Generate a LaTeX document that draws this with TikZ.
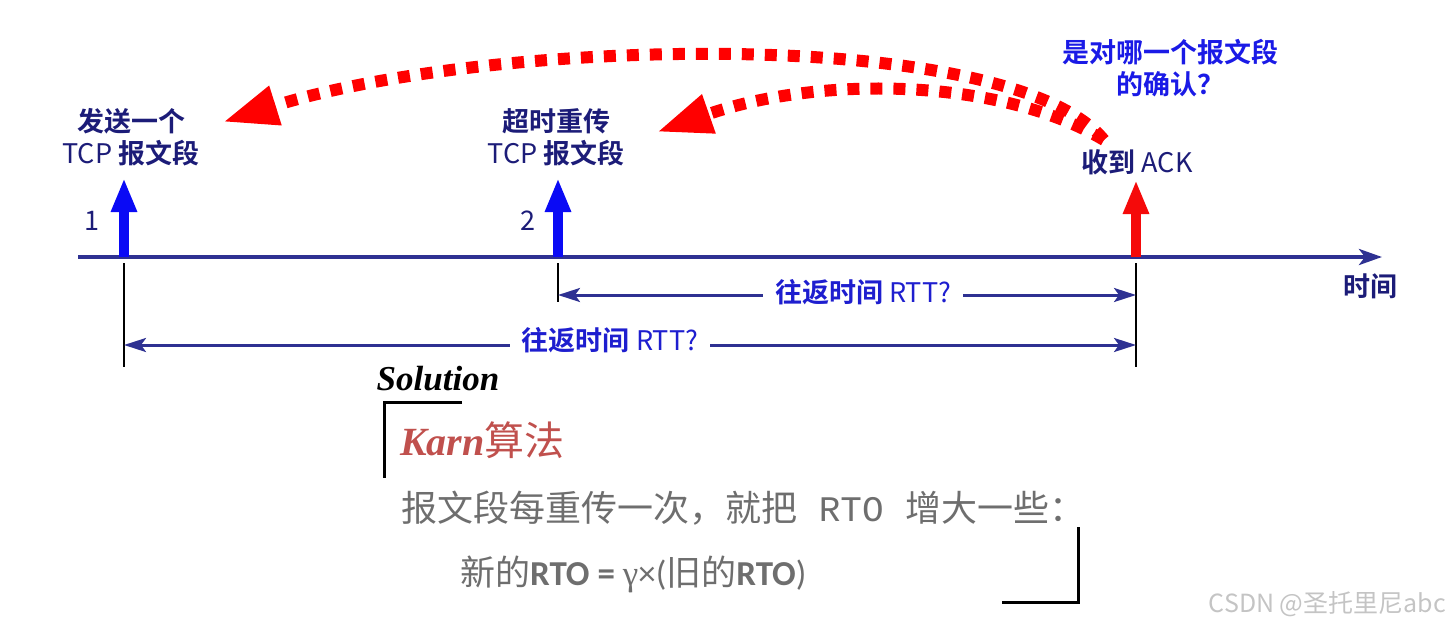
\documentclass[tikz,border=0pt]{standalone}
\usepackage{fontspec}
\usetikzlibrary{arrows.meta}
\newfontfamily\cjk{Noto Sans CJK SC}[BoldFont=* Bold]
\newfontfamily\carl{Carlito}
\newfontfamily\tnr{Liberation Serif}
\newfontfamily\mono{Liberation Mono}
\definecolor{navy}{HTML}{2E3192}
\definecolor{labnavy}{HTML}{1C1C78}
\definecolor{rttblue}{HTML}{1E1ECF}
\definecolor{qblue}{HTML}{1A1AE6}
\definecolor{pureblue}{HTML}{0A0AF5}
\definecolor{ackred}{HTML}{F50A0A}
\definecolor{karn}{HTML}{C0504D}
\definecolor{graytxt}{HTML}{6E6E6E}
\definecolor{wm}{HTML}{C4C4C4}
\begin{document}
\begin{tikzpicture}[x=1pt,y=-1pt,
  toplbl/.style={font=\cjk\bfseries\fontsize{27}{32}\selectfont, text=labnavy, inner sep=0pt, align=center},
  qlbl/.style={font=\cjk\bfseries\fontsize{27}{32}\selectfont, text=qblue, inner sep=0pt, align=center},
  numlbl/.style={font=\cjk\fontsize{27}{30}\selectfont, text=labnavy, inner sep=0pt},
  rttlbl/.style={font=\cjk\bfseries\fontsize{27}{30}\selectfont, text=rttblue, fill=white, inner xsep=12pt, inner ysep=2pt},
  timeline/.style={draw=navy, line width=4pt, -{Stealth[length=23pt,width=16pt,inset=6pt]}},
  rtt/.style={draw=navy, line width=3pt, {Stealth[length=22pt,width=14pt,inset=5pt]}-{Stealth[length=22pt,width=14pt,inset=5pt]}},
  sendarrow/.style={line width=10pt, -{Triangle[length=34pt,width=24pt]}},
  tick/.style={draw=black, line width=1.8pt},
  reddot/.style={draw=red, line width=12pt, dash pattern=on 12pt off 11pt, -{Triangle[length=55pt,width=38pt]}},
  bracket/.style={draw=black, line width=3pt},
  grayl/.style={text=graytxt, inner sep=0pt, anchor=west}
]
\useasboundingbox (0,0) rectangle (1449,630);

% timeline
\coordinate (tl0) at (78,257);
\coordinate (tl1) at (1382,257);
\draw[timeline] (tl0) -- (tl1);
\node[toplbl] (time) at (1370,286) {时间};

% event points
\coordinate (e1) at (124,257);
\coordinate (e2) at (558,257);
\coordinate (e3) at (1136,257);
\coordinate (h1) at (124,178);
\coordinate (h2) at (558,178);
\coordinate (h3) at (1136,180);
\draw[sendarrow, draw=pureblue, fill=pureblue] (e1) -- (h1);
\draw[sendarrow, draw=pureblue, fill=pureblue] (e2) -- (h2);
\draw[sendarrow, draw=ackred, fill=ackred] (e3) -- (h3);

\node[numlbl] (n1) at (92,221) {1};
\node[numlbl] (n2) at (528,221) {2};

\node[toplbl] (send1) at (131,137) {发送一个\\{\mdseries TCP} 报文段};
\node[toplbl] (send2) at (556,137) {超时重传\\{\mdseries TCP} 报文段};
\node[toplbl] (ack) at (1137,162) {收到 {\mdseries ACK}};
\node[qlbl] (q) at (1170,68) {是对哪一个报文段\\的确认？};

% tick lines
\coordinate (v1a) at (124,263); \coordinate (v1b) at (124,367);
\coordinate (v2a) at (558,263); \coordinate (v2b) at (558,302);
\coordinate (v3a) at (1136,263); \coordinate (v3b) at (1136,367);
\draw[tick] (v1a) -- (v1b);
\draw[tick] (v2a) -- (v2b);
\draw[tick] (v3a) -- (v3b);

% RTT arrows
\coordinate (r1a) at (558,295); \coordinate (r1b) at (1136,295);
\coordinate (r2a) at (124,345); \coordinate (r2b) at (1136,345);
\draw[rtt] (r1a) -- (r1b);
\draw[rtt] (r2a) -- (r2b);
\node[rttlbl] (rtt1) at (863,292) {往返时间 {\mdseries RTT?}};
\node[rttlbl] (rtt2) at (610,340) {往返时间 {\mdseries RTT?}};

% red dotted arcs
\coordinate (ackfrom) at (1104,140);
\coordinate (tipA) at (223,122);
\coordinate (tipB) at (657,132);
\draw[reddot] (ackfrom) .. controls (1010,25) and (493,37) .. (tipA);
\draw[reddot] (ackfrom) .. controls (1000,78) and (820,75) .. (tipB);

% Solution part
\node[inner sep=0pt, font=\tnr\bfseries\itshape\fontsize{35}{37}\selectfont] (sol) at (438,379) {Solution};
\coordinate (b1a) at (462,402); \coordinate (b1c) at (384,402); \coordinate (b1b) at (384,478);
\draw[bracket] (b1a) -- (b1c) -- (b1b);
\node[grayl, text=karn, font=\cjk\fontsize{40}{44}\selectfont] (karn) at (400,440) {{\tnr\bfseries\itshape Karn}算法};
\node[grayl, font=\cjk\fontsize{36}{40}\selectfont] (rule) at (401,508) {报文段每重传一次，就把{\mono\fontsize{36}{40}\selectfont\ RTO\ }增大一些：};
\node[grayl, font=\cjk\fontsize{35}{38}\selectfont] (form) at (460,574) {新的{\carl\bfseries RTO = }{\tnr γ}{\carl ×(}旧的{\carl\bfseries RTO}{\carl )}};
\coordinate (b2a) at (1078,527); \coordinate (b2c) at (1078,602); \coordinate (b2b) at (1002,602);
\draw[bracket] (b2a) -- (b2c) -- (b2b);

% watermark
\node[anchor=east, inner sep=0pt, text=wm, font=\cjk\fontsize{25}{27}\selectfont] (wmk) at (1446,604) {CSDN @圣托里尼abc};
\end{tikzpicture}
\end{document}
